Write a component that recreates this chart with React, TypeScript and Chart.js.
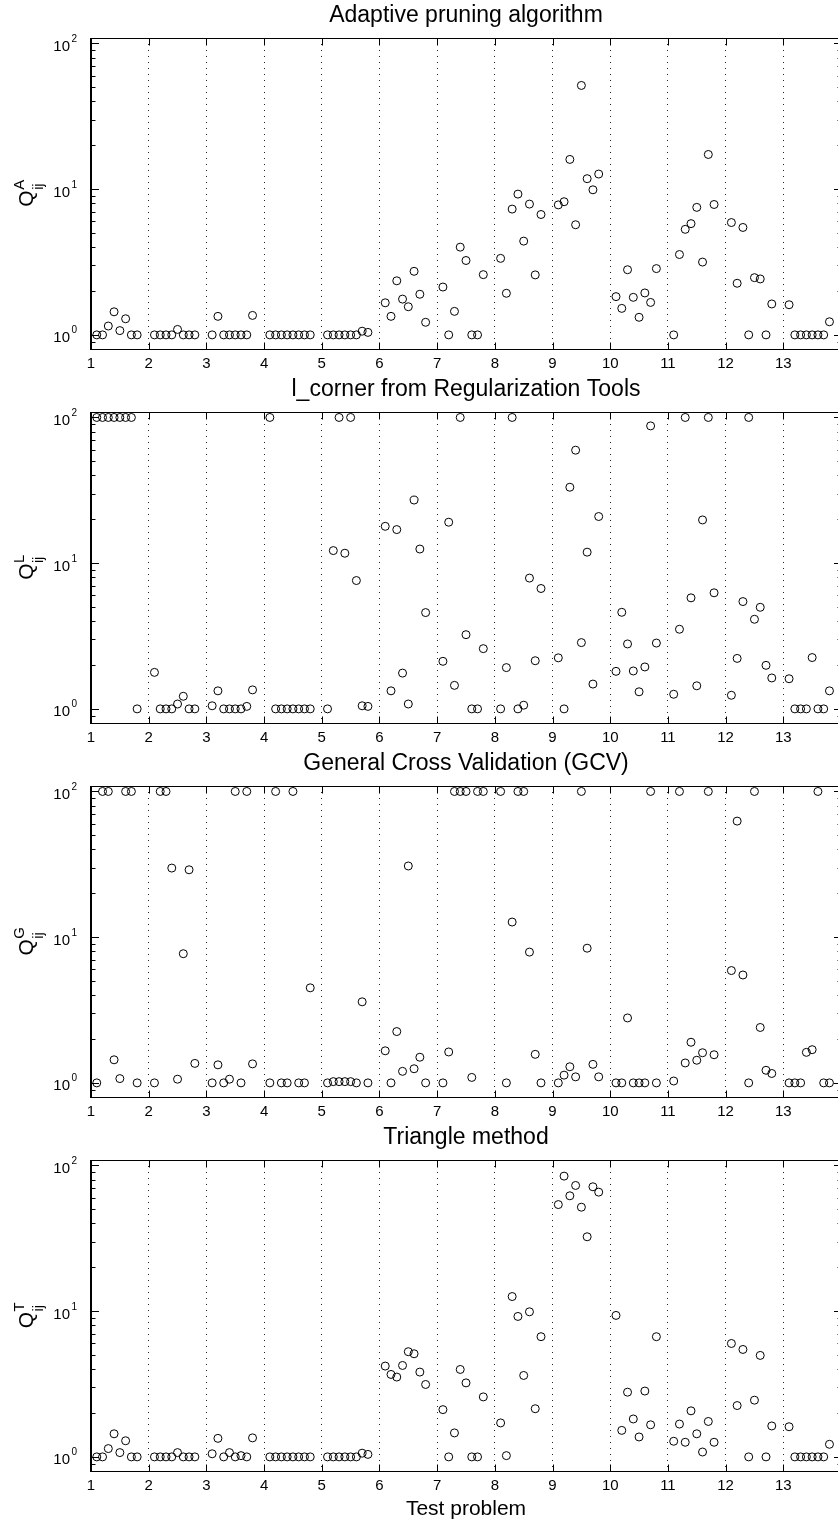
import React, { useEffect, useRef } from 'react';
import { Chart, registerables } from 'chart.js';

Chart.register(...registerables);

// ---------- data ----------
const testProblems = [1, 2, 3, 4, 5, 6, 7, 8, 9, 10, 11, 12, 13];
const runOffsets = [0.1, 0.2, 0.3, 0.4, 0.5, 0.6, 0.7, 0.8];

const xTickValues = [1, 2, 3, 4, 5, 6, 7, 8, 9, 10, 11, 12, 13, 14];
const xTickLabels = ['1', '2', '3', '4', '5', '6', '7', '8', '9', '10', '11', '12', '13', ''];

const yMajorTicks = [1, 10, 100];
const yTickExponents = ['0', '1', '2'];
const yMinorTicks = [0.9, 2, 3, 4, 5, 6, 7, 8, 9, 20, 30, 40, 50, 60, 70, 80, 90];

const adaptiveValues = [
  1.0, 1.0, 1.15, 1.44, 1.07, 1.29, 1.0, 1.0,
  1.0, 1.0, 1.0, 1.0, 1.09, 1.0, 1.0, 1.0,
  1.0, 1.34, 1.0, 1.0, 1.0, 1.0, 1.0, 1.36,
  1.0, 1.0, 1.0, 1.0, 1.0, 1.0, 1.0, 1.0,
  1.0, 1.0, 1.0, 1.0, 1.0, 1.0, 1.06, 1.04,
  1.66, 1.34, 2.35, 1.76, 1.56, 2.73, 1.9, 1.22,
  2.13, 1.0, 1.45, 4.0, 3.24, 1.0, 1.0, 2.59,
  3.35, 1.93, 7.3, 9.25, 4.4, 7.9, 2.58, 6.7,
  7.8, 8.2, 16.0, 5.7, 51.5, 11.8, 9.9, 12.7,
  1.83, 1.52, 2.8, 1.81, 1.32, 1.94, 1.67, 2.85,
  1.0, 3.56, 5.3, 5.8, 7.5, 3.16, 17.3, 7.85,
  5.9, 2.26, 5.46, 1.0, 2.47, 2.42, 1.0, 1.63,
  1.61, 1.0, 1.0, 1.0, 1.0, 1.0, 1.0, 1.23,
];

const lcornerValues = [
  100, 100, 100, 100, 100, 100, 100, 1.0,
  1.78, 1.0, 1.0, 1.0, 1.08, 1.22, 1.0, 1.0,
  1.05, 1.33, 1.0, 1.0, 1.0, 1.0, 1.04, 1.35,
  100, 1.0, 1.0, 1.0, 1.0, 1.0, 1.0, 1.0,
  1.0, 12.2, 100, 11.7, 100, 7.6, 1.05, 1.04,
  17.9, 1.33, 17.0, 1.76, 1.08, 27.1, 12.5, 4.58,
  2.12, 19.1, 1.45, 100, 3.23, 1.0, 1.0, 2.59,
  1.0, 1.92, 100, 1.0, 1.06, 7.9, 2.14, 6.7,
  2.24, 1.0, 33.2, 59.6, 2.85, 11.9, 1.48, 20.9,
  1.81, 4.6, 2.79, 1.82, 1.31, 1.94, 87.5, 2.83,
  1.26, 3.52, 100, 5.78, 1.44, 19.8, 100, 6.26,
  1.24, 2.22, 5.45, 100, 4.12, 4.98, 1.99, 1.63,
  1.61, 1.0, 1.0, 1.0, 2.25, 1.0, 1.0, 1.33,
];

const gcvValues = [
  1.0, 100, 100, 1.44, 1.07, 100, 100, 1.0,
  1.0, 100, 100, 29.8, 1.06, 7.7, 29.0, 1.36,
  1.0, 1.33, 1.0, 1.06, 100, 1.0, 100, 1.35,
  1.0, 100, 1.0, 1.0, 100, 1.0, 1.0, 4.49,
  1.0, 1.02, 1.02, 1.02, 1.02, 1.0, 3.6, 1.0,
  1.66, 1.0, 2.25, 1.2, 30.8, 1.25, 1.5, 1.0,
  1.0, 1.63, 100, 100, 100, 1.09, 100, 100,
  100, 1.0, 12.7, 100, 100, 7.9, 1.57, 1.0,
  1.0, 1.13, 1.29, 1.1, 100, 8.4, 1.34, 1.1,
  1.0, 1.0, 2.79, 1.0, 1.0, 1.0, 100, 1.0,
  1.03, 100, 1.37, 1.9, 1.43, 1.61, 100, 1.56,
  5.9, 62.6, 5.5, 1.0, 100, 2.4, 1.22, 1.16,
  1.0, 1.0, 1.0, 1.62, 1.69, 100, 1.0, 1.0,
];

const triangleValues = [
  1.0, 1.0, 1.14, 1.44, 1.07, 1.29, 1.0, 1.0,
  1.0, 1.0, 1.0, 1.0, 1.07, 1.0, 1.0, 1.0,
  1.05, 1.34, 1.0, 1.07, 1.0, 1.02, 1.0, 1.35,
  1.0, 1.0, 1.0, 1.0, 1.0, 1.0, 1.0, 1.0,
  1.0, 1.0, 1.0, 1.0, 1.0, 1.0, 1.06, 1.04,
  4.2, 3.68, 3.53, 4.24, 5.27, 5.1, 3.82, 3.14,
  2.11, 1.0, 1.46, 3.98, 3.22, 1.0, 1.0, 2.58,
  1.71, 1.02, 12.6, 9.2, 3.62, 9.9, 2.14, 6.68,
  53.9, 84.5, 61.9, 72.9, 51.7, 32.4, 71.4, 65.6,
  9.35, 1.52, 2.78, 1.82, 1.37, 2.83, 1.66, 6.68,
  1.28, 1.68, 1.26, 2.07, 1.44, 1.08, 1.75, 1.26,
  6.0, 2.25, 5.46, 1.0, 2.45, 4.97, 1.0, 1.63,
  1.61, 1.0, 1.0, 1.0, 1.0, 1.0, 1.0, 1.22,
];

const panelTitles = [
  'Adaptive pruning algorithm',
  'l_corner from Regularization Tools',
  'General Cross Validation (GCV)',
  'Triangle method',
];
const panelSuperscripts = ['A', 'L', 'G', 'T'];
const panelValues = [adaptiveValues, lcornerValues, gcvValues, triangleValues];
const xAxisTitle = 'Test problem';

// ---------- layout ----------
const FONT = '"Liberation Sans", Arial, Helvetica, sans-serif';
const CANVAS_W = 850;
const PAGE_W = 838;
const PAGE_H = 1522;
const PANEL_STEP = 374;
const LEFT = 91;
const RIGHT_PAD = 9;

const xPositions: number[] = [];
testProblems.forEach((p) => runOffsets.forEach((o) => xPositions.push(Math.round((p + o) * 10) / 10)));

const matlabPlugin = {
  id: 'matlabAxes',
  afterDraw(chart: any, _args: any, opts: any) {
    const { ctx, chartArea: a } = chart;
    const xs = chart.scales.x;
    const ys = chart.scales.y;
    const al = (v: number) => Math.round(v) + 0.5;
    ctx.save();
    ctx.strokeStyle = '#000';
    ctx.lineWidth = 1;
    ctx.setLineDash([]);
    const L = al(a.left), R = al(a.right), T = al(a.top), B = al(a.bottom);
    ctx.strokeRect(L, T, R - L, B - T);
    // slightly heavier left axis line as in the original
    ctx.beginPath();
    ctx.moveTo(L - 1, T - 0.5);
    ctx.lineTo(L - 1, B + 0.5);
    ctx.stroke();
    ctx.beginPath();
    for (const v of xTickValues) {
      const px = al(xs.getPixelForValue(v));
      ctx.moveTo(px, B);
      ctx.lineTo(px, B - 7);
      ctx.moveTo(px, T);
      ctx.lineTo(px, T + 7);
    }
    for (const v of yMajorTicks) {
      const py = al(ys.getPixelForValue(v));
      ctx.moveTo(L, py);
      ctx.lineTo(L + 7.5, py);
      ctx.moveTo(R, py);
      ctx.lineTo(R - 7.5, py);
    }
    for (const v of yMinorTicks) {
      const py = al(ys.getPixelForValue(v));
      ctx.moveTo(L, py);
      ctx.lineTo(L + 4, py);
      ctx.moveTo(R, py);
      ctx.lineTo(R - 4, py);
    }
    ctx.stroke();

    // y tick labels 10^n
    ctx.fillStyle = '#000';
    yMajorTicks.forEach((v, i) => {
      const py = ys.getPixelForValue(v);
      ctx.font = `15px ${FONT}`;
      ctx.textAlign = 'right';
      ctx.textBaseline = 'alphabetic';
      ctx.fillText('10', 70, py + 7.4);
      ctx.font = `10px ${FONT}`;
      ctx.textAlign = 'left';
      ctx.fillText(yTickExponents[i], 71.5, py - 1.5);
    });

    // y label Q^X_ij (rotated)
    const cy = (a.top + a.bottom) / 2;
    ctx.font = `21px ${FONT}`;
    const qW = ctx.measureText('Q').width;
    ctx.font = `15px ${FONT}`;
    const supW = ctx.measureText(opts.sup).width;
    ctx.font = `14px ${FONT}`;
    const subW = ctx.measureText('ij').width;
    const total = qW + Math.max(supW, subW);
    ctx.translate(33, cy + total / 2);
    ctx.rotate(-Math.PI / 2);
    ctx.textAlign = 'left';
    ctx.textBaseline = 'alphabetic';
    ctx.font = `21px ${FONT}`;
    ctx.fillText('Q', 0, 0);
    ctx.font = `15px ${FONT}`;
    ctx.fillText(opts.sup, qW + 0.5, -9);
    ctx.font = `14px ${FONT}`;
    ctx.fillText('ij', qW + 0.5, 10);
    ctx.restore();
  },
};

function Panel({ index }: { index: number }) {
  const ref = useRef<HTMLCanvasElement | null>(null);
  const isLast = index === 3;
  const height = isLast ? PAGE_H - PANEL_STEP * 3 : PANEL_STEP;
  const xAxisH = isLast ? 51 : 25;

  useEffect(() => {
    const canvas = ref.current;
    if (!canvas) return;
    const values = panelValues[index];
    const points = xPositions.map((x, i) => ({ x, y: values[i] }));
    const chart = new Chart(canvas, {
      type: 'scatter',
      data: {
        datasets: [
          {
            data: points,
            pointStyle: 'circle',
            pointRadius: 4,
            pointHoverRadius: 4,
            pointBorderWidth: 1,
            borderColor: '#000',
            pointBorderColor: '#000',
            backgroundColor: 'rgba(0,0,0,0)',
            pointBackgroundColor: 'rgba(0,0,0,0)',
            showLine: false,
          } as any,
        ],
      },
      options: {
        responsive: false,
        animation: false,
        devicePixelRatio: 1,
        events: [],
        layout: { padding: { left: 0, right: RIGHT_PAD, top: 0, bottom: 0 } },
        plugins: {
          legend: { display: false },
          tooltip: { enabled: false },
          title: {
            display: true,
            text: panelTitles[index],
            fullSize: false,
            color: '#000',
            font: { family: FONT, size: 23, weight: 'normal' },
            padding: { top: 2, bottom: 8.4 },
          },
          matlabAxes: { sup: panelSuperscripts[index] },
        } as any,
        scales: {
          x: {
            type: 'linear',
            position: 'bottom',
            min: 1,
            max: 14,
            afterFit: (s: any) => {
              s.height = xAxisH;
            },
            ticks: {
              stepSize: 1,
              autoSkip: false,
              maxRotation: 0,
              padding: 6,
              color: '#000',
              font: { family: FONT, size: 15 },
              callback: (_v: any, i: number) => xTickLabels[i],
            },
            grid: { display: true, drawTicks: false, color: '#222', lineWidth: 1 },
            border: { display: false, dash: [1, 5] },
            title: isLast
              ? {
                  display: true,
                  text: xAxisTitle,
                  color: '#000',
                  font: { family: FONT, size: 21 },
                  padding: { top: 0, bottom: 0.4 },
                }
              : { display: false },
          },
          y: {
            type: 'logarithmic',
            position: 'left',
            min: 0.8,
            max: 109,
            afterFit: (s: any) => {
              s.width = LEFT;
            },
            ticks: { display: false },
            grid: { display: false },
            border: { display: false },
          },
        } as any,
      },
      plugins: [matlabPlugin],
    });
    return () => chart.destroy();
  }, [index]);

  return (
    <canvas
      ref={ref}
      width={CANVAS_W}
      height={height}
      style={{
        position: 'absolute',
        left: 0,
        top: index * PANEL_STEP,
        width: CANVAS_W,
        height,
        display: 'block',
      }}
    />
  );
}

export default function App() {
  return (
    <div
      style={{
        position: 'absolute',
        left: 0,
        top: 0,
        width: PAGE_W,
        height: PAGE_H,
        overflow: 'hidden',
        background: '#fff',
      }}
    >
      {[0, 1, 2, 3].map((i) => (
        <Panel key={i} index={i} />
      ))}
    </div>
  );
}
